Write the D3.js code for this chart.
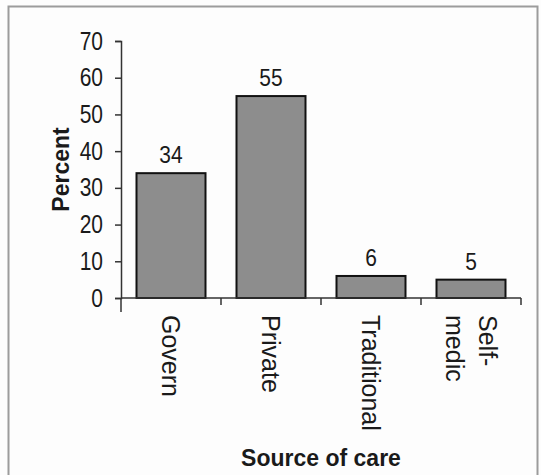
<!DOCTYPE html>
<html>
<head>
<meta charset="utf-8">
<script src="https://cdn.jsdelivr.net/npm/d3@7"></script>
<style>
  html, body { margin: 0; padding: 0; background: #fdfdfd; }
  svg { display: block; }
  text { font-family: "Liberation Sans", Arial, sans-serif; fill: #1a1a1a; }
</style>
</head>
<body>
<script>
// Source of care (percent of respondents)
const categories = ["Govern", "Private", "Traditional", "Self-\nmedic"];
const values = [34, 55, 6, 5];
const yTicks = [0, 10, 20, 30, 40, 50, 60, 70];
const yLabel = "Percent";
const xLabel = "Source of care";

const W = 541, H = 475;
const plot = { left: 121, right: 521, top: 41, bottom: 298 };

const svg = d3.select("body").append("svg")
  .attr("width", W).attr("height", H);

// panel frame
svg.append("rect")
  .attr("x", 8.5).attr("y", 6.5)
  .attr("width", 529).attr("height", 480)
  .attr("fill", "#fdfdfd")
  .attr("stroke", "#9c9c9c").attr("stroke-width", 2);

const x = d3.scaleBand()
  .domain(categories)
  .range([plot.left, plot.right])
  .paddingInner(0.31)
  .paddingOuter(0.155);

const y = d3.scaleLinear()
  .domain([0, 70])
  .range([plot.bottom, plot.top]);

// bars
svg.append("g").selectAll("rect")
  .data(categories)
  .join("rect")
  .attr("x", d => x(d))
  .attr("y", (d, i) => y(values[i]))
  .attr("width", x.bandwidth())
  .attr("height", (d, i) => y(0) - y(values[i]))
  .attr("fill", "#8d8d8d")
  .attr("stroke", "#111")
  .attr("stroke-width", 2);

// value labels above the bars
svg.append("g").selectAll("text")
  .data(categories)
  .join("text")
  .attr("transform", (d, i) =>
    `translate(${x(d) + x.bandwidth() / 2},${y(values[i]) - 10}) scale(1,1.12)`)
  .attr("text-anchor", "middle")
  .style("font-size", "21px")
  .text((d, i) => values[i]);

// y axis
const yAxis = d3.axisLeft(y)
  .tickValues(yTicks)
  .tickSize(6)
  .tickSizeOuter(6)
  .tickPadding(12);
const gy = svg.append("g")
  .attr("transform", `translate(${plot.left},0)`)
  .call(yAxis);
gy.selectAll("path, line").attr("stroke", "#333").attr("stroke-width", 1.5);
gy.selectAll("text")
  .style("font-size", "21px")
  .attr("fill", "#1a1a1a")
  .attr("transform", "scale(1,1.2)");

// x axis: baseline with ticks at the category boundaries
const step = x.step();
const bounds = [plot.left].concat(categories.map(c => x(c) - step * x.paddingInner() / 2 + step));
const gx = svg.append("g");
gx.append("line")
  .attr("x1", plot.left).attr("x2", plot.right)
  .attr("y1", y(0)).attr("y2", y(0))
  .attr("stroke", "#333").attr("stroke-width", 1.5);
gx.selectAll("line.tick")
  .data(bounds)
  .join("line")
  .attr("class", "tick")
  .attr("x1", d => d).attr("x2", d => d)
  .attr("y1", y(0))
  .attr("y2", (d, i) => y(0) + (i === 0 ? 14 : 7))
  .attr("stroke", "#333").attr("stroke-width", 1.5);

// rotated category labels (multi-line labels stack right to left)
const lineGap = 33;
gx.selectAll("text")
  .data(categories)
  .join("text")
  .attr("transform", d => `translate(${x(d) + x.bandwidth() / 2},${y(0) + 17}) rotate(90)`)
  .style("font-size", "25px")
  .each(function (d) {
    const lines = d.split("\n");
    const t = d3.select(this);
    lines.forEach((ln, j) => {
      t.append("tspan")
        .attr("x", 0)
        .attr("y", ((lines.length - 1) / 2 - j) * -lineGap + 9)
        .text(ln);
    });
  });

// axis titles
svg.append("text")
  .attr("transform", `translate(69,${(plot.top + plot.bottom) / 2}) rotate(-90)`)
  .attr("text-anchor", "middle")
  .style("font-size", "23px")
  .style("font-weight", "bold")
  .text(yLabel);

svg.append("text")
  .attr("x", (plot.left + plot.right) / 2)
  .attr("y", 466)
  .attr("text-anchor", "middle")
  .style("font-size", "23px")
  .style("font-weight", "bold")
  .text(xLabel);
</script>
</body>
</html>
